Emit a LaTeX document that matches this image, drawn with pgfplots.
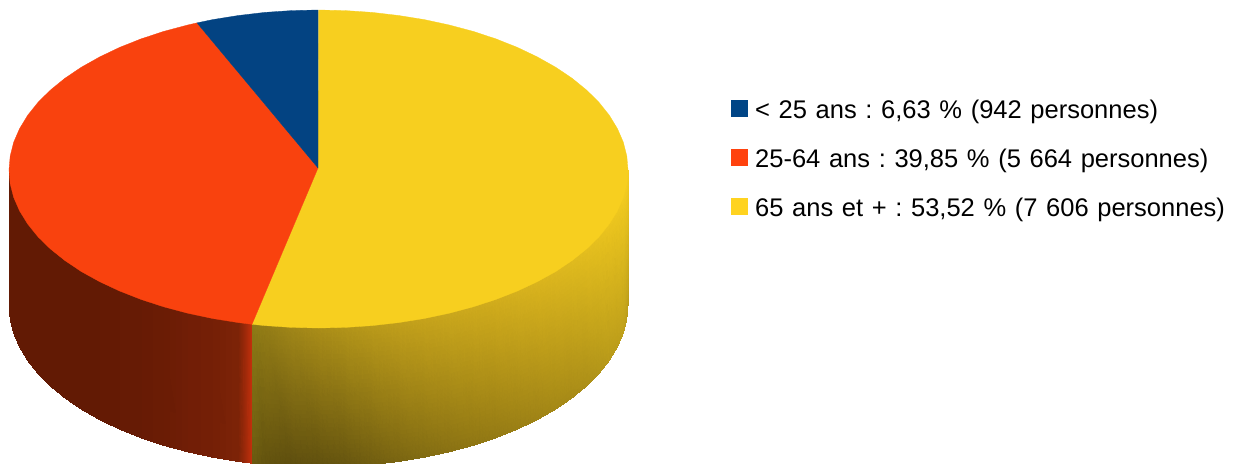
\documentclass[border=0pt]{standalone}
\usepackage{pgfplots}
\usepackage{pgfplotstable}
\usepackage{fontspec}
\setmainfont{Liberation Sans}[WordSpace=1.22]
\frenchspacing
\pgfplotsset{compat=1.18}
\definecolor{bleu}{RGB}{3,67,130}
\definecolor{orange1}{RGB}{249,66,14}
\definecolor{jaune}{RGB}{247,207,31}
\definecolor{lbleu}{RGB}{0,69,134}
\definecolor{lorange}{RGB}{255,66,14}
\definecolor{ljaune}{RGB}{255,211,32}

% yellow side: top edge / bottom edge, colour per vertex
\pgfplotstableread{
x y c
628.0 170.0 rgb255=245,205,31
628.0 305.0 rgb255=184,154,26
626.8 183.8 rgb255=244,204,31
626.8 319.1 rgb255=187,157,27
623.3 197.4 rgb255=242,203,31
623.3 333.1 rgb255=191,160,27
617.4 210.9 rgb255=238,199,30
617.4 346.9 rgb255=188,157,26
609.3 224.0 rgb255=235,196,30
609.3 360.4 rgb255=184,154,26
599.0 236.8 rgb255=231,193,30
599.0 373.5 rgb255=178,149,25
586.5 249.0 rgb255=228,190,30
586.5 386.0 rgb255=172,143,24
572.0 260.6 rgb255=224,187,30
572.0 397.9 rgb255=168,139,23
555.6 271.6 rgb255=221,183,30
555.6 409.1 rgb255=164,136,22
537.3 281.7 rgb255=218,180,29
537.3 419.6 rgb255=159,131,22
517.4 291.0 rgb255=214,177,29
517.4 429.1 rgb255=154,127,21
496.0 299.4 rgb255=210,173,28
496.0 437.7 rgb255=148,122,20
473.3 306.8 rgb255=206,170,28
473.3 445.3 rgb255=143,118,19
449.3 313.2 rgb255=202,167,28
449.3 451.8 rgb255=137,113,19
424.3 318.5 rgb255=198,163,27
424.3 457.2 rgb255=130,108,18
398.6 322.6 rgb255=193,159,27
398.6 461.5 rgb255=122,101,17
372.2 325.6 rgb255=186,154,26
372.2 464.5 rgb255=112,93,16
345.5 327.4 rgb255=178,148,25
345.5 466.4 rgb255=102,85,15
318.5 328.0 rgb255=170,141,24
318.5 467.0 rgb255=96,80,14
291.5 327.4 rgb255=160,134,24
291.5 466.4 rgb255=94,78,14
264.8 325.6 rgb255=148,125,22
264.8 464.5 rgb255=98,82,14
252.0 324.3 rgb255=142,123,22
252.0 463.2 rgb255=107,91,16
}\sideJaune

% orange side
\pgfplotstableread{
x y c
252.0 324.3 rgb255=196,48,12
252.0 463.2 rgb255=196,48,12
246.0 323.6 rgb255=163,42,10
246.0 462.5 rgb255=163,42,10
238.4 322.6 rgb255=124,35,7
238.4 461.5 rgb255=124,35,7
212.7 318.5 rgb255=116,31,6
212.7 457.2 rgb255=116,31,6
187.7 313.2 rgb255=112,30,6
187.7 451.8 rgb255=112,30,6
163.7 306.8 rgb255=106,28,5
163.7 445.3 rgb255=106,28,5
141.0 299.4 rgb255=102,27,5
141.0 437.7 rgb255=102,27,5
119.6 291.0 rgb255=100,26,4
119.6 429.1 rgb255=100,26,4
99.7 281.7 rgb255=98,26,4
99.7 419.6 rgb255=98,26,4
81.4 271.6 rgb255=98,26,4
81.4 409.1 rgb255=98,26,4
65.0 260.6 rgb255=98,26,4
65.0 397.9 rgb255=98,26,4
50.5 249.0 rgb255=98,26,4
50.5 386.0 rgb255=98,26,4
38.0 236.8 rgb255=98,26,4
38.0 373.5 rgb255=98,26,4
27.7 224.0 rgb255=98,26,4
27.7 360.4 rgb255=98,26,4
19.6 210.9 rgb255=98,26,4
19.6 346.9 rgb255=98,26,4
13.7 197.4 rgb255=98,26,4
13.7 333.1 rgb255=98,26,4
10.2 183.8 rgb255=98,26,4
10.2 319.1 rgb255=98,26,4
9.0 170.0 rgb255=98,26,4
9.0 305.0 rgb255=98,26,4
}\sideOrange

\begin{document}
\begin{tikzpicture}
\path[use as bounding box] (0,0) rectangle (1238pt,463pt);
\begin{axis}[
    at={(0,0)}, anchor=south west,
    scale only axis,
    width=1238pt, height=463pt,
    xmin=0, xmax=1238,
    ymin=0, ymax=463,
    y dir=reverse,
    axis lines=none,
    clip=true,
]
    % sides
    \addplot[surf, shader=interp, mesh/color input=explicit, mesh/cols=2]
        table[x=x, y=y, meta=c] {\sideOrange};
    \addplot[surf, shader=interp, mesh/color input=explicit, mesh/cols=2]
        table[x=x, y=y, meta=c] {\sideJaune};

    % top face
    \addplot[fill=jaune, draw=jaune, line width=0.3pt] coordinates {
        (318,168) (318.5,10) (345.5,10.6) (372.2,12.4) (398.6,15.5) (424.3,19.6)
        (449.3,25) (473.3,31.4) (496,38.9) (517.4,47.4) (537.3,56.9) (555.6,67.2)
        (572,78.2) (586.5,90) (599,102.4) (609.3,115.3) (617.4,128.6) (623.3,142.2)
        (626.8,156) (628,170) (626.8,183.8) (623.3,197.4) (617.4,210.9) (609.3,224)
        (599,236.8) (586.5,249) (572,260.6) (555.6,271.6) (537.3,281.7) (517.4,291)
        (496,299.4) (473.3,306.8) (449.3,313.2) (424.3,318.5) (398.6,322.6)
        (372.2,325.6) (345.5,327.4) (318.5,328) (291.5,327.4) (264.8,325.6) (252,324.3)
    } --cycle;
    \addplot[fill=orange1, draw=orange1, line width=0.3pt] coordinates {
        (318,168) (197,22.9) (187.7,25) (163.7,31.4) (141,38.9) (119.6,47.4)
        (99.7,56.9) (81.4,67.2) (65,78.2) (50.5,90) (38,102.4) (27.7,115.3)
        (19.6,128.6) (13.7,142.2) (10.2,156) (9,170) (10.2,183.8) (13.7,197.4)
        (19.6,210.9) (27.7,224) (38,236.8) (50.5,249) (65,260.6) (81.4,271.6)
        (99.7,281.7) (119.6,291) (141,299.4) (163.7,306.8) (187.7,313.2)
        (212.7,318.5) (238.4,322.6) (252,324.3)
    } --cycle;
    \addplot[fill=bleu, draw=bleu, line width=0.3pt] coordinates {
        (318,168) (318,10) (291.5,10.6) (264.8,12.4) (238.4,15.5) (212.7,19.6) (197,22.9)
    } --cycle;

    % legend
    \addplot[only marks, mark=square*, mark size=8pt, lbleu] coordinates {(739,108)};
    \addplot[only marks, mark=square*, mark size=8pt, lorange] coordinates {(739,157.5)};
    \addplot[only marks, mark=square*, mark size=8pt, ljaune] coordinates {(739,206.5)};
    \node[anchor=base west, inner sep=0pt, font=\fontsize{25.5}{30}\selectfont] at (axis cs:755,118) {< 25 ans : 6,63 \% (942 personnes)};
    \node[anchor=base west, inner sep=0pt, font=\fontsize{25.5}{30}\selectfont] at (axis cs:755,167) {25-64 ans : 39,85 \% (5 664 personnes)};
    \node[anchor=base west, inner sep=0pt, font=\fontsize{25.5}{30}\selectfont] at (axis cs:755,216) {65 ans et + : 53,52 \% (7 606 personnes)};
\end{axis}
\end{tikzpicture}
\end{document}
